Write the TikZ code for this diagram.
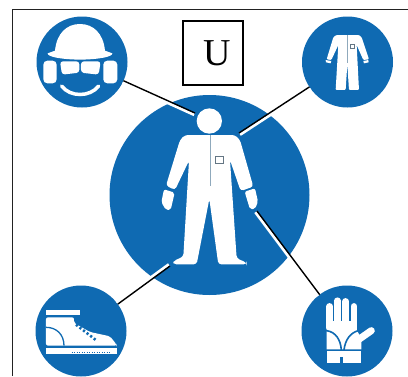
\documentclass[tikz,border=0pt]{standalone}
\usepackage{fontspec}
\usepackage{xcolor}
\usepackage{tikz}
\setmainfont{Liberation Serif}
\definecolor{signBlue}{HTML}{0F6AB2}
\definecolor{zipGrey}{HTML}{8FA9BC}
\definecolor{frameGrey}{HTML}{222222}
\tikzset{
  signdisc/.style={circle, fill=signBlue, inner sep=0pt, outer sep=0pt, minimum size=#1},
  labelbox/.style={rectangle, draw=black, fill=white, line width=1.3pt, minimum width=60pt, minimum height=64pt, inner sep=0pt, font=\fontsize{38}{40}\selectfont},
  wire/.style={draw=black, line width=1.4pt},
  wirehalo/.style={draw=white, line width=2.8pt, transform canvas={shift={#1}}},
  cutout/.style={fill=white, draw=none},
  bluestroke/.style={draw=signBlue, line width=#1},
  whitestroke/.style={draw=white, line width=#1, line cap=round},
}

\begin{document}
\begin{tikzpicture}[x=1pt,y=-1pt]
  \useasboundingbox (0,0) rectangle (408,376);
  \fill[white] (0,0) rectangle (408,376);

  % Frame: only top and left show
  \draw[frameGrey, line width=1.6pt] (12.5,376) -- (12.5,9.5) -- (408,9.5);

  % Discs
  \node[signdisc=200pt] (body) at (209.5,195) {};
  \node[signdisc=91pt] (helmet) at (82,62) {};
  \node[signdisc=91pt] (suit) at (347.5,62) {};
  \node[signdisc=91pt] (boot) at (81,331) {};
  \node[signdisc=91pt] (glove) at (347,331) {};
  \node[labelbox] (ubox) at (213,53) {\hspace*{8pt}U};

  % Centre figure
  \begin{scope}[shift={(140,95)},scale=0.3333]
    \fill[white] (208,78) circle (38);
    \fill[cutout, rounded corners=3pt] (135,120) -- (285,120) -- (300,135) -- (340,275) -- (302,288) -- (270,195)
      -- (290,490) -- (320,503) -- (320,508) -- (235,508) -- (208,312) -- (170,508) -- (100,508) -- (100,498) -- (130,485)
      -- (147,197) -- (105,285) -- (78,272) -- (120,135) -- cycle;
    \fill[cutout, rounded corners=2pt] (72,283) -- (104,293) -- (92,345) -- (78,345) -- (64,322) -- cycle;
    \fill[cutout, rounded corners=2pt] (345,280) -- (314,290) -- (330,343) -- (345,342) -- (354,320) -- cycle;
    \draw[zipGrey, line width=1pt] (211,120) -- (211,272);
    \draw[zipGrey!70!black, line width=0.7pt] (225,183) rectangle (250,204);
  \end{scope}

  % Helmet sign
  \begin{scope}[scale=0.3333]
    \fill[cutout] (165,152) .. controls (170,100) and (200,72) .. (240,72) .. controls (280,72) and (310,100) .. (315,152)
      -- (337,160) .. controls (338,170) and (300,178) .. (240,179) .. controls (180,178) and (142,170) .. (143,160) -- cycle;
    \fill[cutout, rounded corners=4pt] (130,182) rectangle (170,250);
    \fill[cutout, rounded corners=4pt] (310,182) rectangle (352,250);
    \fill[cutout, rounded corners=3pt] (180,184) -- (238,184) -- (238,218) -- (186,224) -- cycle;
    \fill[cutout, rounded corners=3pt] (243,184) -- (302,184) -- (296,224) -- (243,218) -- cycle;
    \draw[whitestroke=3.5pt] (185,258) .. controls (210,292) and (270,292) .. (296,258);
  \end{scope}

  % Coverall sign
  \begin{scope}[shift={(204,0)},scale=0.3333]
    \fill[cutout, rounded corners=1pt] (397,105) -- (465,105) -- (473,112) -- (495,178) -- (478,180) -- (458,135) -- (465,270)
      -- (435,270) -- (430,192) -- (425,270) -- (395,270) -- (403,135) -- (382,180) -- (368,178) -- (388,112) -- cycle;
    \fill[cutout] (365,180) -- (382,183) -- (380,190) -- (366,187) -- cycle;
    \fill[cutout] (478,183) -- (493,180) -- (494,187) -- (480,190) -- cycle;
    \draw[zipGrey, line width=0.5pt] (430,105) -- (430,190);
    \draw[zipGrey!70!black, line width=0.5pt] (439,134) rectangle (451,144);
  \end{scope}

  % Boot sign
  \begin{scope}[shift={(0,188)},scale=0.3333]
    \fill[cutout] (138,365) rectangle (240,380);
    \fill[cutout, rounded corners=2pt] (138,388) -- (222,388) -- (222,405) -- (270,432) -- (330,445) -- (350,470) -- (350,473) -- (138,473) -- cycle;
    \draw[bluestroke=1.3pt] (138,418) .. controls (170,418) and (192,440) .. (192,473);
    \draw[bluestroke=2.6pt, dash pattern=on 2.2pt off 2.3pt] (228,410) -- (290,458);
    \fill[cutout] (138,480) rectangle (352,497);
    \draw[bluestroke=1pt, dash pattern=on 1pt off 1.5pt] (215,494) -- (335,494);
  \end{scope}

  % Glove sign
  \begin{scope}[shift={(204,188)},scale=0.3333]
    \draw[whitestroke=6.5pt] (377,420) -- (377,355);
    \draw[whitestroke=6.5pt] (400,420) -- (400,338);
    \draw[whitestroke=6.5pt] (425,420) -- (425,340);
    \draw[whitestroke=6.5pt] (450,420) -- (450,355);
    \fill[cutout] (368,400) rectangle (460,440);
    \fill[cutout] (368,430) -- (368,484) -- (472,484) -- (472,450) -- (460,430) -- cycle;
    \draw[whitestroke=7pt] (445,468) -- (502,428);
    \draw[bluestroke=1.6pt] (368,428) .. controls (395,432) and (410,455) .. (412,486);
    \draw[bluestroke=1.6pt] (462,428) .. controls (438,436) and (424,455) .. (420,486);
    \fill[cutout] (368,490) rectangle (472,526);
    \fill[signBlue] (409,508) rectangle (418,526);
  \end{scope}

  % Connectors
  \coordinate (headpt) at (195,113);
  \coordinate (chestpt) at (239,133);
  \coordinate (footpt) at (170,266);
  \coordinate (handpt) at (257,211);
  \draw[wirehalo={(-0.8,1.8)}] (helmet) -- (headpt);
  \draw[wirehalo={(1.1,1.65)}] (suit) -- (chestpt);
  \draw[wirehalo={(-1.2,-1.6)}] (boot) -- (footpt);
  \draw[wirehalo={(-1.6,1.2)}] (glove) -- (handpt);
  \draw[wire] (helmet) -- (headpt);
  \draw[wire] (suit) -- (chestpt);
  \draw[wire] (boot) -- (footpt);
  \draw[wire] (glove) -- (handpt);
\end{tikzpicture}
\end{document}
